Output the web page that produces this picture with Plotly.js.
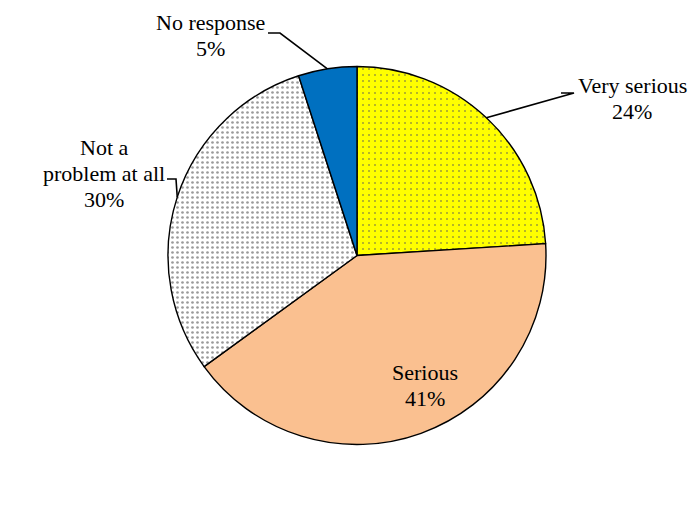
<!DOCTYPE html>
<html>
<head>
<meta charset="utf-8">
<script src="https://cdn.plot.ly/plotly-3.0.1.min.js"></script>
<style>
  html, body { margin: 0; padding: 0; background: #ffffff; font-family: 'Liberation Serif', serif; }
  #chart { width: 699px; height: 505px; }
  #chart text { font-family: 'Liberation Serif', serif !important; }
</style>
</head>
<body>
<div id="chart"></div>
<script>
// Survey responses: how serious is the problem?
const categories = ['Very serious', 'Serious', 'Not a problem at all', 'No response'];
const shares = [24, 41, 30, 5];
// Category names as they are wrapped on the chart
const labelLines = [['Very serious'], ['Serious'], ['Not a', 'problem at all'], ['No response']];

// Slice fills
const sliceColors = ['#FFFF00', '#FAC090', '#FFFFFF', '#0070C0'];
const patternShapes = ['.', '', '.', ''];
const patternInk = ['#5a5a5a', '#000000', '#9a9a9a', '#000000'];
const patternSize = [6, 8, 5, 8];
const patternSolidity = [0.06, 0.2, 0.22, 0.2];

const W = 699, H = 505;
const cx = 357, cy = 255.5, R = 189;
const px = x => x / W;
const py = y => 1 - y / H;

// Label blocks: centre x and y of first line (pixels), line step
const labelPos = [
  { x: 632, y: 85.5 },
  { x: 425, y: 372 },
  { x: 104, y: 147 },
  { x: 210.5, y: 22.5 }
];
const lineStep = 26;
// Leader line start (elbow) for each outside label; null = label sits inside
const leaderStart = [
  [[561, 93], [574, 93]],
  null,
  [[167, 179], [176, 179]],
  [[268, 33], [280, 33]]
];

const total = shares.reduce((a, b) => a + b, 0);
const labelFont = () => ({ family: 'Liberation Serif', size: 22, color: '#000000' });

const annotations = [];
const shapes = [];
let acc = 0;
categories.forEach((c, i) => {
  const lines = labelLines[i].concat([shares[i] + '%']);
  lines.forEach((t, k) => {
    annotations.push({
      text: t, showarrow: false, xref: 'paper', yref: 'paper',
      x: px(labelPos[i].x), y: py(labelPos[i].y + k * lineStep),
      xanchor: 'center', yanchor: 'middle', font: labelFont()
    });
  });
  // mid-angle of the slice, clockwise from 12 o'clock
  const mid = (acc + shares[i] / 2) / total * 2 * Math.PI;
  acc += shares[i];
  if (leaderStart[i]) {
    const ex = cx + R * Math.sin(mid), ey = cy - R * Math.cos(mid);
    const pts = leaderStart[i].concat([[ex, ey]]);
    const path = pts.map((p, j) => (j ? 'L' : 'M') + px(p[0]).toFixed(5) + ',' + py(p[1]).toFixed(5)).join(' ');
    shapes.push({ type: 'path', xref: 'paper', yref: 'paper', path: path, line: { color: '#000000', width: 1.6 } });
  }
});

const trace = {
  type: 'pie',
  labels: categories,
  values: shares,
  sort: false,
  direction: 'clockwise',
  rotation: 0,
  textinfo: 'none',
  hoverinfo: 'label+percent',
  showlegend: false,
  domain: { x: [px(cx - R), px(cx + R)], y: [py(cy + R), py(cy - R)] },
  marker: {
    colors: sliceColors,
    line: { color: '#000000', width: 1.4 },
    pattern: {
      shape: patternShapes,
      bgcolor: sliceColors,
      fgcolor: patternInk,
      size: patternSize,
      solidity: patternSolidity,
      fillmode: 'replace'
    }
  }
};

const layout = {
  width: W, height: H,
  margin: { l: 0, r: 0, t: 0, b: 0 },
  paper_bgcolor: '#ffffff',
  plot_bgcolor: '#ffffff',
  showlegend: false,
  annotations: annotations,
  shapes: shapes
};

Plotly.newPlot('chart', [trace], layout, { displayModeBar: false, staticPlot: true });
</script>
</body>
</html>
